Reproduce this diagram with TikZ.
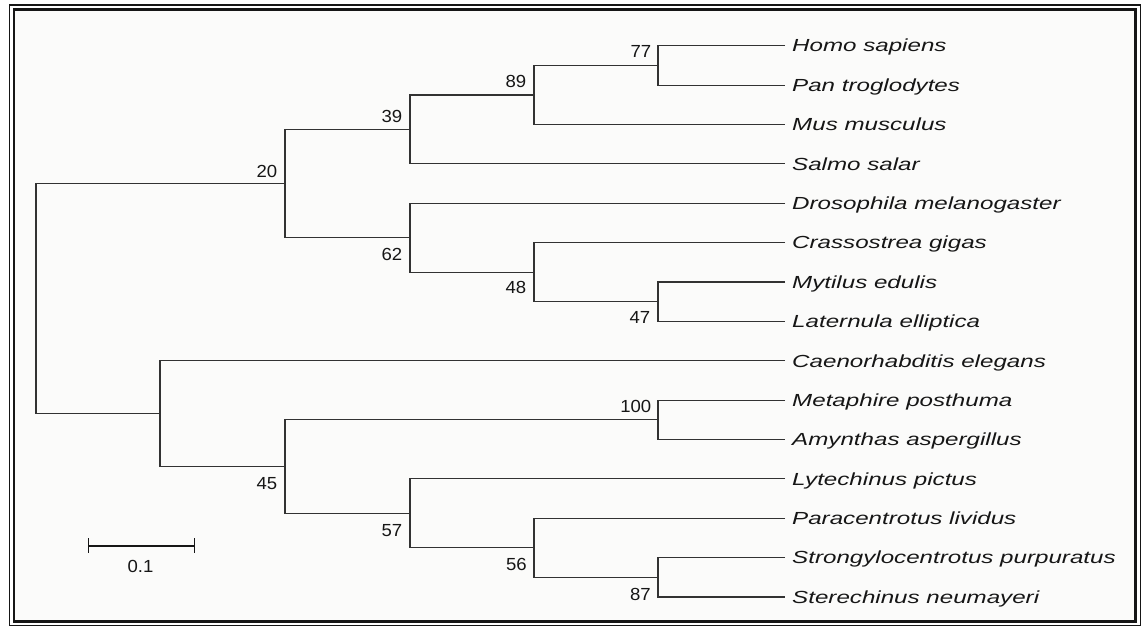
\documentclass[tikz,border=0pt]{standalone}
\usepackage{fontspec}
\newfontfamily\taxonfont[FakeStretch=1.38]{Liberation Sans}
\newfontfamily\valuefont[FakeStretch=1.06]{Liberation Sans}
\definecolor{ink}{RGB}{22,22,22}
\definecolor{treeline}{RGB}{50,50,50}
\definecolor{paper}{RGB}{251,251,250}
\begin{document}
\begin{tikzpicture}[x=1pt,y=-1pt,
  branch/.style={draw=treeline, line width=1.1pt},
  taxon/.style={anchor=west, inner xsep=7pt, inner ysep=0pt,
    text height=12.6pt, text depth=0pt, text=ink,
    font={\taxonfont\itshape\fontsize{17.5pt}{20pt}\selectfont}},
  support/.style={inner sep=0pt, text=ink,
    font={\valuefont\fontsize{17.5pt}{20pt}\selectfont}},
  bsabove/.style={support, anchor=base east},
  bsbelow/.style={support, anchor=base east},
  scalebar/.style={draw=ink, line width=1.6pt}]

\useasboundingbox (0,0) rectangle (1145,626);

% double frame
\fill[paper] (14,9.5) rectangle (1135.5,621.5);
\draw[ink, line width=1.3pt] (9.5,4.5) rectangle (1140.5,625.5);
\draw[ink, line width=2.4pt] (14,9.5) rectangle (1135.5,621.5);
\draw[ink, line width=2.2pt] (9.5,5) -- (1140.5,5);

% leaves
\node[taxon] (homo)  at (785,45.7)  {Homo sapiens};
\node[taxon] (pan)   at (785,85.1)  {Pan troglodytes};
\node[taxon] (mus)   at (785,124.5) {Mus musculus};
\node[taxon] (salmo) at (785,163.8) {Salmo salar};
\node[taxon] (droso) at (785,203.2) {Drosophila melanogaster};
\node[taxon] (crass) at (785,242.6) {Crassostrea gigas};
\node[taxon] (mytil) at (785,282.0) {Mytilus edulis};
\node[taxon] (later) at (785,321.4) {Laternula elliptica};
\node[taxon] (caeno) at (785,360.7) {Caenorhabditis elegans};
\node[taxon] (metap) at (785,400.1) {Metaphire posthuma};
\node[taxon] (amyn)  at (785,439.5) {Amynthas aspergillus};
\node[taxon] (lyte)  at (785,478.9) {Lytechinus pictus};
\node[taxon] (para)  at (785,518.3) {Paracentrotus lividus};
\node[taxon] (stron) at (785,557.6) {Strongylocentrotus purpuratus};
\node[taxon] (stere) at (785,597.0) {Sterechinus neumayeri};

% internal nodes
\coordinate (n77)  at (658,65.4);
\coordinate (n89)  at (534,95.0);
\coordinate (n39)  at (410,129.4);
\coordinate (n47)  at (658,301.7);
\coordinate (n48)  at (534,272.2);
\coordinate (n62)  at (410,237.7);
\coordinate (n20)  at (285,183.5);
\coordinate (n100) at (658,419.8);
\coordinate (n87)  at (658,577.3);
\coordinate (n56)  at (534,547.8);
\coordinate (n57)  at (410,513.4);
\coordinate (n45)  at (285,466.6);
\coordinate (nbot) at (160,413.7);
\coordinate (root) at (36,298.6);

% branches
\draw[branch] (homo.west) -| (n77) |- (pan.west);
\draw[branch] (n77) -| (n89) |- (mus.west);
\draw[branch] (n89) -| (n39) |- (salmo.west);
\draw[branch] (mytil.west) -| (n47) |- (later.west);
\draw[branch] (crass.west) -| (n48) |- (n47);
\draw[branch] (droso.west) -| (n62) |- (n48);
\draw[branch] (n39) -| (n20) |- (n62);
\draw[branch] (metap.west) -| (n100) |- (amyn.west);
\draw[branch] (stron.west) -| (n87) |- (stere.west);
\draw[branch] (para.west) -| (n56) |- (n87);
\draw[branch] (lyte.west) -| (n57) |- (n56);
\draw[branch] (n100) -| (n45) |- (n57);
\draw[branch] (caeno.west) -| (nbot) |- (n45);
\draw[branch] (n20) -| (root) |- (nbot);

% bootstrap values
\node[bsabove] (b77)  at ([xshift=-6.5pt,yshift=7.5pt]n77)  {77};
\node[bsabove] (b89)  at ([xshift=-7.5pt,yshift=7.5pt]n89)  {89};
\node[bsabove] (b39)  at ([xshift=-7.5pt,yshift=6.5pt]n39)  {39};
\node[bsabove] (b20)  at ([xshift=-7.5pt,yshift=6.5pt]n20)  {20};
\node[bsabove] (b100) at ([xshift=-6.5pt,yshift=7pt]n100)   {100};
\node[bsbelow] (b62)  at ([xshift=-7.5pt,yshift=-22.5pt]n62) {62};
\node[bsbelow] (b48)  at ([xshift=-7.5pt,yshift=-21.5pt]n48) {48};
\node[bsbelow] (b47)  at ([xshift=-7.5pt,yshift=-21.5pt]n47) {47};
\node[bsbelow] (b45)  at ([xshift=-7.5pt,yshift=-22.5pt]n45) {45};
\node[bsbelow] (b57)  at ([xshift=-7.5pt,yshift=-23.5pt]n57) {57};
\node[bsbelow] (b56)  at ([xshift=-7pt,yshift=-23pt]n56)   {56};
\node[bsbelow] (b87)  at ([xshift=-7pt,yshift=-23pt]n87)   {87};

% scale bar
\coordinate (sbL) at (88.5,545.7);
\coordinate (sbR) at (194.5,545.7);
\draw[scalebar] (sbL) -- (sbR);
\draw[scalebar] ([yshift=7.5pt]sbL) -- ([yshift=-7.5pt]sbL);
\draw[scalebar] ([yshift=7.5pt]sbR) -- ([yshift=-7.5pt]sbR);
\node[support, anchor=base] (sblabel) at (140.5,572) {0.1};
\end{tikzpicture}
\end{document}
